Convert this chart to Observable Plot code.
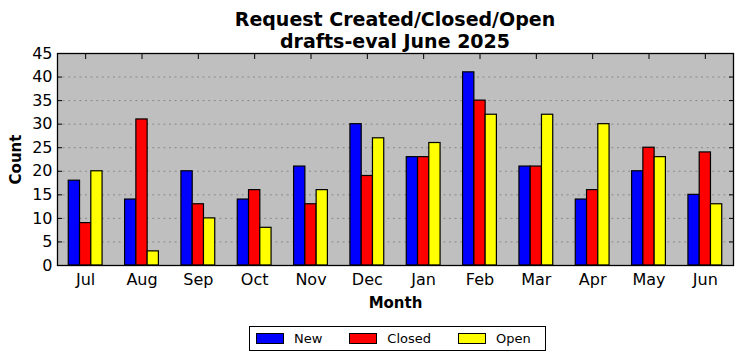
<!DOCTYPE html>
<html>
<head>
<meta charset="utf-8">
<script src="https://cdn.jsdelivr.net/npm/d3@7"></script>
<script src="https://cdn.jsdelivr.net/npm/@observablehq/plot@0.6"></script>
<style>
  body { margin: 0; background: white; font-family: "DejaVu Sans", sans-serif; }
  #title { width: 790px; text-align: center; font-weight: bold; font-size: 19px; line-height: 22px; padding-top: 8px; height: 35px; overflow: visible; position: relative; z-index: 1; }
  #legend { margin-top: 6px; margin-left: 249px; width: 289px; height: 23px; border: 1px solid black; display: flex; align-items: center; padding-left: 6px; box-sizing: content-box; font-size: 13px; }
  .item { display: flex; align-items: center; margin-right: 27px; }
  .item:last-child { margin-right: 0; }
  .sw { width: 26px; height: 9px; border: 1px solid black; margin-right: 10px; }
</style>
</head>
<body>
<div id="title">Request Created/Closed/Open<br>drafts-eval June 2025</div>
<div id="chart"></div>
<div id="legend"></div>
<script>
const months = ["Jul","Aug","Sep","Oct","Nov","Dec","Jan","Feb","Mar","Apr","May","Jun"];
const series = ["New","Closed","Open"];
const colors = ["#0000ff","#ff0000","#ffff00"];
const newValues    = [18, 14, 20, 14, 21, 30, 23, 41, 21, 14, 20, 15];
const closedValues = [ 9, 31, 13, 16, 13, 19, 23, 35, 21, 16, 25, 24];
const openValues   = [20,  3, 10,  8, 16, 27, 26, 32, 32, 30, 23, 13];
const yTicks = [0, 5, 10, 15, 20, 25, 30, 35, 40, 45];

const seriesValues = [newValues, closedValues, openValues];
const data = months.flatMap((m, i) => series.map((s, j) => ({i, j, month: m, series: s, value: seriesValues[j][i]})));
const barW = 0.2;

const chart = Plot.plot({
  width: 742,
  height: 277,
  marginTop: 10,
  marginLeft: 57,
  marginRight: 9,
  marginBottom: 55,
  style: {fontFamily: "DejaVu Sans, sans-serif", background: "transparent", color: "black", overflow: "visible"},
  x: {type: "linear", domain: [-0.5, 11.5]},
  y: {domain: [0, 45]},
  color: {domain: series, range: colors},
  marks: [
    Plot.frame({fill: "#bfbfbf"}),
    Plot.gridY(yTicks.slice(1, -1), {stroke: "#8a8a8a", strokeOpacity: 1, strokeDasharray: "2,3.6", strokeWidth: 1}),
    Plot.rectY(data, {
      x1: d => d.i + (d.j - 1.5) * barW,
      x2: d => d.i + (d.j - 0.5) * barW,
      y: "value",
      fill: "series",
      stroke: "black",
      strokeWidth: 1.2
    }),
    Plot.frame({stroke: "black", strokeWidth: 1.3}),
    Plot.axisY(yTicks, {tickSize: 0, tickPadding: 5, fontSize: 16, label: null}),
    Plot.axisY(yTicks, {anchor: "left", tickSize: 5, dx: 5, tickFormat: () => "", label: null}),
    Plot.axisY(yTicks, {anchor: "right", tickSize: 5, dx: -5, tickFormat: () => "", label: null}),
    Plot.axisX(d3.range(12), {anchor: "bottom", tickSize: 0, tickPadding: 8, fontSize: 16, tickFormat: i => months[i], label: null}),
    Plot.axisX(d3.range(12), {anchor: "top", tickSize: 5, dy: 5, tickFormat: () => "", label: null}),
    Plot.text(["Count"], {text: d => d, frameAnchor: "left", dx: -41, rotate: -90, textAnchor: "middle", lineAnchor: "middle", fontWeight: "bold", fontSize: 15}),
    Plot.text(["Month"], {text: d => d, frameAnchor: "bottom", dy: 38, textAnchor: "middle", lineAnchor: "middle", fontWeight: "bold", fontSize: 15})
  ]
});
document.getElementById("chart").appendChild(chart);

const legend = document.getElementById("legend");
series.forEach((s, j) => {
  const item = document.createElement("div");
  item.className = "item";
  const sw = document.createElement("div");
  sw.className = "sw";
  sw.style.background = colors[j];
  const label = document.createElement("span");
  label.textContent = s;
  item.appendChild(sw);
  item.appendChild(label);
  legend.appendChild(item);
});
</script>
</body>
</html>
